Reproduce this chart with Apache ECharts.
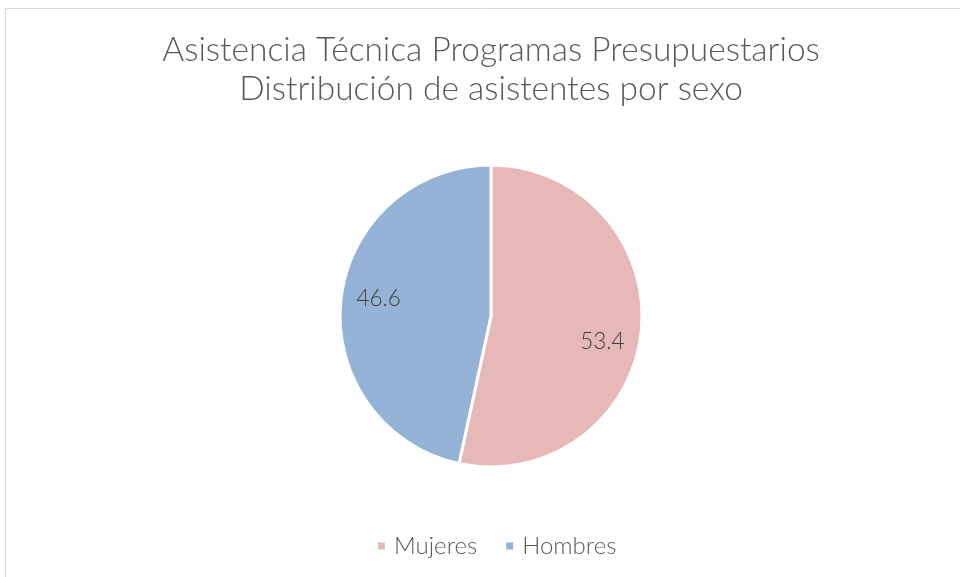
<!DOCTYPE html>
<html><head><meta charset="utf-8">
<script src="https://cdn.jsdelivr.net/npm/echarts@6/dist/echarts.min.js"></script>
<style>html,body{margin:0;padding:0;background:#fff}#c{width:960px;height:577px}</style>
</head><body><div id="c"></div>
<script>
const titleLines = ["Asistencia Técnica Programas Presupuestarios", "Distribución de asistentes por sexo"];
const categories = ["Mujeres", "Hombres"];
const values = [53.4, 46.6];
const colors = ["#E6B9B8", "#95B3D7"];

const labelOffsets = [[-4, 13], [3, -5]];
const data = categories.map((c, i) => ({ name: c, value: values[i], itemStyle: { color: colors[i] } }));
const chart = echarts.init(document.getElementById('c'));
chart.setOption({
  animation: false,
  title: {
    text: titleLines.join('\n'),
    left: 486, textAlign: 'center', top: 26,
    textStyle: { fontFamily: 'Lato', fontWeight: 300, fontSize: 33.5, color: '#595959', lineHeight: 39 }
  },
  legend: {
    bottom: 14, left: 371, itemWidth: 9, itemHeight: 9, itemGap: 27, icon: 'rect',
    data: categories,
    textStyle: { fontFamily: 'Lato', fontWeight: 300, fontSize: 24, color: '#595959', padding: [0, 0, 0, 3] }
  },
  graphic: [{ type: 'rect', shape: { x: 5.5, y: 8.5, width: 1000, height: 1000 }, style: { fill: 'none', stroke: '#d9d9d9', lineWidth: 1 }, silent: true }],
  series: [
    {
      type: 'pie', center: [491, 316], radius: [0, 151], startAngle: 90, clockwise: true,
      data: data,
      itemStyle: { borderColor: '#fff', borderWidth: 3 },
      label: { show: false }, labelLine: { show: false }, silent: true
    },
    {
      type: 'pie', center: [491, 316], radius: [75, 151], startAngle: 90, clockwise: true,
      data: categories.map((c, i) => ({ name: c, value: values[i], label: { offset: labelOffsets[i] } })),
      itemStyle: { color: 'rgba(0,0,0,0)' },
      label: { show: true, position: 'inside', formatter: p => p.value.toFixed(1), fontFamily: 'Lato', fontWeight: 300, fontSize: 22.5, color: '#404040' },
      labelLine: { show: false }, silent: true, legendHoverLink: false
    }
  ]
});
</script></body></html>
